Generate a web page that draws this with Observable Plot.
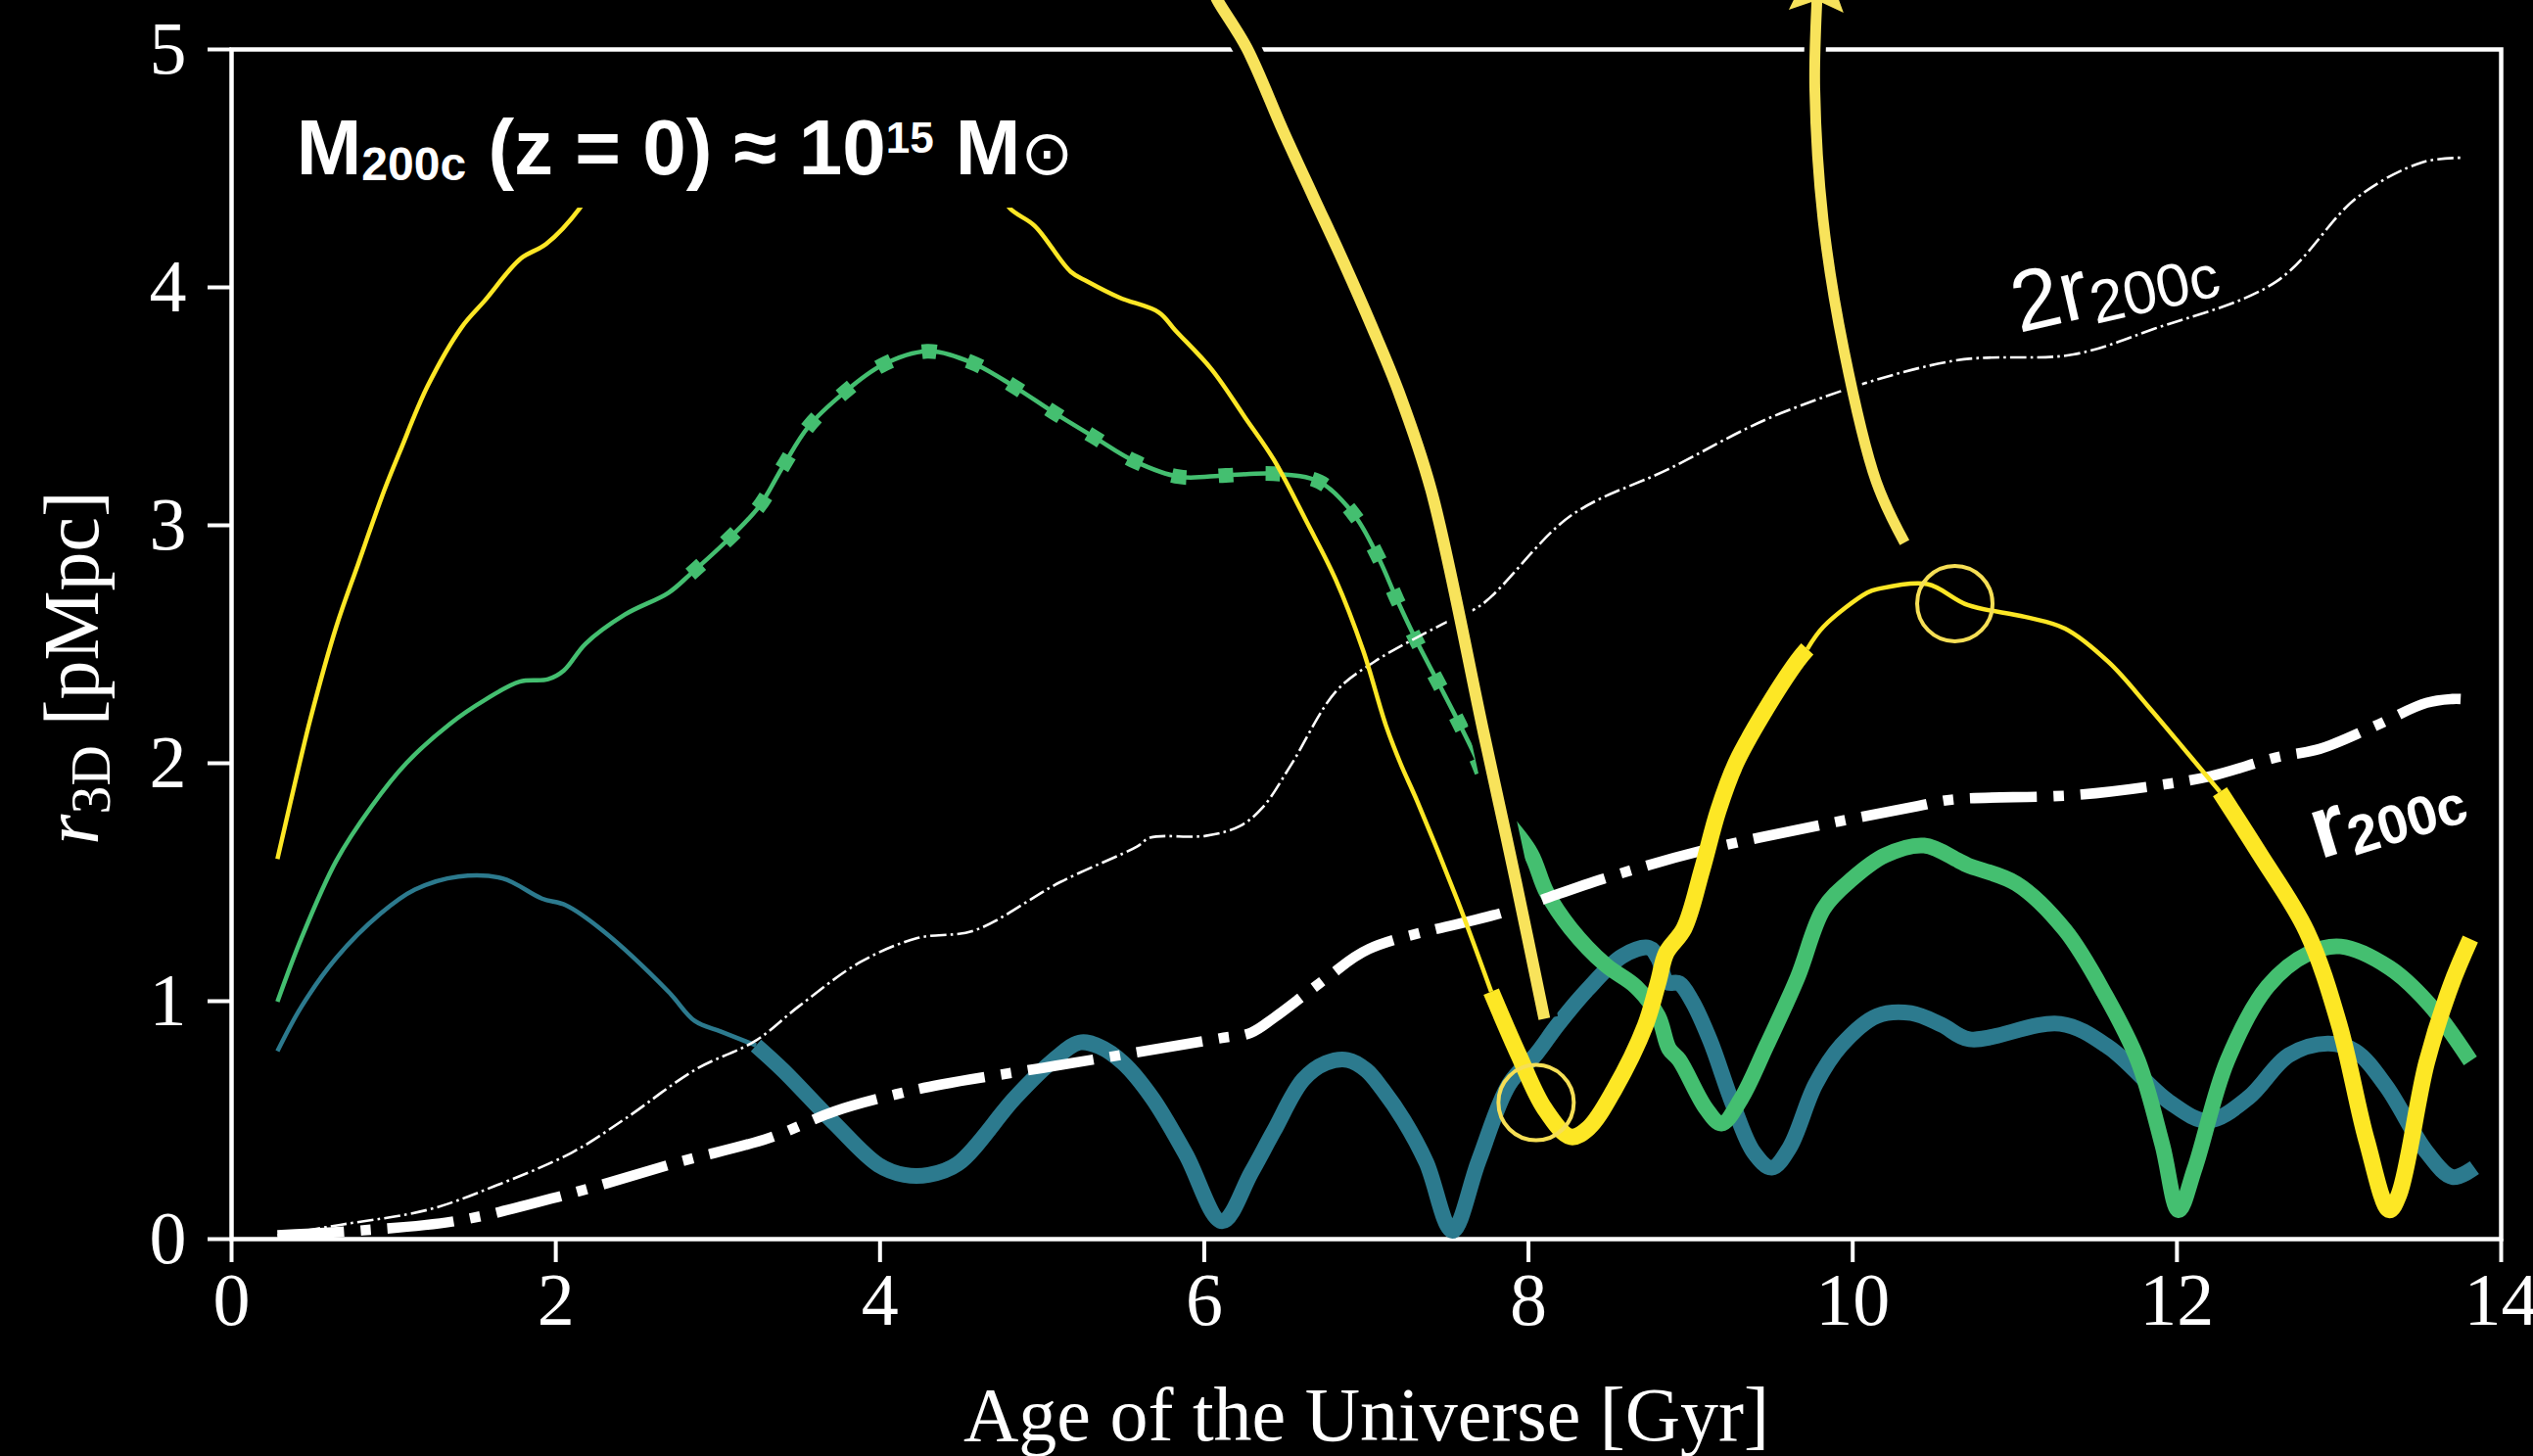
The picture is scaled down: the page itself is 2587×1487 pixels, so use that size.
<!DOCTYPE html>
<html><head><meta charset="utf-8">
<script src="https://cdn.jsdelivr.net/npm/d3@7"></script>
<script src="https://cdn.jsdelivr.net/npm/@observablehq/plot@0.6"></script>
<style>html,body{margin:0;padding:0;background:#000;overflow:hidden}</style>
</head><body><div id="chart"></div>
<script>
// ---------- data: [age (Gyr), r3D (pMpc)] ----------
const xTicks = [0, 2, 4, 6, 8, 10, 12, 14];
const yTicks = [0, 1, 2, 3, 4, 5];

const blueThin = [[0.283,0.79],[0.431,0.977],[0.646,1.182],[0.917,1.367],[1.131,1.469],[1.40,1.524],[1.672,1.516],[1.915,1.431],[2.062,1.403],[2.29,1.296],[2.696,1.039],[2.857,0.917],[3.02,0.872],[3.235,0.814]];
const blueThick = [[3.235,0.814],[3.40,0.711],[3.72,0.486],[3.99,0.312],[4.15,0.27],[4.3,0.27],[4.48,0.317],[4.83,0.592],[5.05,0.74],[5.23,0.826],[5.35,0.81],[5.50,0.74],[5.68,0.592],[5.885,0.358],[6.11,0.075],[6.29,0.28],[6.43,0.455],[6.61,0.67],[6.75,0.74],[6.885,0.753],[7.0,0.71],[7.10,0.629],[7.23,0.5],[7.37,0.322],[7.53,0.035],[7.693,0.33],[7.88,0.65],[8.05,0.78],[8.18,0.9],[8.365,1.05],[8.58,1.19],[8.745,1.224],[8.80,1.18],[8.855,1.08],[8.93,1.075],[9.01,0.999],[9.12,0.835],[9.26,0.568],[9.39,0.364],[9.50,0.3],[9.61,0.384],[9.77,0.65],[9.93,0.815],[10.15,0.938],[10.36,0.95],[10.55,0.9],[10.72,0.84],[11.28,0.905],[11.58,0.806],[11.95,0.578],[12.19,0.498],[12.44,0.594],[12.69,0.773],[12.93,0.822],[13.10,0.79],[13.29,0.643],[13.54,0.366],[13.70,0.261],[13.835,0.3]];

const greenThin = [[0.283,0.998],[0.431,1.265],[0.646,1.59],[0.863,1.818],[1.079,2.001],[1.346,2.165],[1.565,2.267],[1.778,2.343],[1.953,2.353],[2.05,2.39],[2.183,2.502],[2.426,2.625],[2.696,2.717],[2.83,2.795],[3.047,2.93],[3.255,3.08],[3.40,3.246],[3.56,3.416],[3.77,3.553],[4.007,3.671],[4.29,3.731],[4.566,3.684],[4.823,3.585],[5.07,3.475],[5.318,3.372],[5.568,3.27],[5.846,3.204],[6.133,3.21],[6.428,3.217],[6.71,3.183],[6.925,3.044],[7.07,2.87],[7.19,2.686],[7.31,2.513],[7.45,2.33],[7.59,2.144],[7.69,2.001],[7.76,1.87],[7.86,1.76]];
const greenMarked = [[2.83,2.795],[3.047,2.93],[3.255,3.08],[3.40,3.246],[3.56,3.416],[3.77,3.553],[4.007,3.671],[4.29,3.731],[4.566,3.684],[4.823,3.585],[5.07,3.475],[5.318,3.372],[5.568,3.27],[5.846,3.204],[6.133,3.21],[6.428,3.217],[6.71,3.183],[6.925,3.044],[7.07,2.87],[7.19,2.686],[7.31,2.513],[7.45,2.33],[7.59,2.144],[7.69,2.001],[7.76,1.87]];
const greenThick = [[7.86,1.76],[8.015,1.62],[8.11,1.46],[8.26,1.306],[8.476,1.152],[8.664,1.06],[8.80,0.937],[8.867,0.8],[8.93,0.753],[9.096,0.548],[9.19,0.486],[9.31,0.588],[9.47,0.815],[9.66,1.10],[9.82,1.388],[9.99,1.51],[10.2,1.613],[10.44,1.654],[10.65,1.592],[10.71,1.571],[11.01,1.494],[11.31,1.298],[11.56,1.024],[11.76,0.749],[11.91,0.396],[12.01,0.121],[12.11,0.298],[12.31,0.749],[12.56,1.062],[12.81,1.20],[13.01,1.23],[13.31,1.141],[13.56,0.984],[13.81,0.749]];

const yellowThinA = [[0.283,1.598],[0.364,1.837],[0.486,2.185],[0.646,2.574],[0.782,2.84],[0.942,3.147],[1.039,3.311],[1.21,3.586],[1.42,3.833],[1.56,3.943],[1.784,4.121],[1.94,4.182],[2.148,4.333],[2.25,4.45]];
const yellowThinB = [[4.70,4.45],[4.80,4.333],[4.955,4.258],[5.176,4.066],[5.279,4.025],[5.478,3.957],[5.72,3.895],[5.822,3.819],[6.046,3.655],[6.254,3.451],[6.428,3.277],[6.636,3.009],[6.81,2.773],[6.98,2.474],[7.12,2.16],[7.21,2.0],[7.315,1.838],[7.56,1.427],[7.77,1.04]];
const yellowThickA = [[7.77,1.04],[7.94,0.773],[8.10,0.548],[8.26,0.43],[8.37,0.467],[8.53,0.63],[8.72,0.897],[8.80,1.08],[8.85,1.203],[8.96,1.306],[9.07,1.551],[9.17,1.80],[9.28,2.001],[9.445,2.205],[9.66,2.431],[9.72,2.48]];
const yellowThinC = [[9.72,2.48],[9.82,2.574],[10.09,2.717],[10.16,2.733],[10.46,2.753],[10.71,2.665],[11.06,2.616],[11.31,2.566],[11.58,2.424],[11.82,2.241],[12.07,2.039],[12.265,1.88]];
const yellowThickB = [[12.265,1.88],[12.51,1.619],[12.80,1.294],[13.0,0.903],[13.17,0.415],[13.31,0.123],[13.37,0.188],[13.54,0.741],[13.69,1.066],[13.81,1.261]];

const r200c = [[0.283,0.016],[0.81,0.037],[1.40,0.078],[2.076,0.189],[2.75,0.322],[3.315,0.425],[3.72,0.537],[4.10,0.609],[4.38,0.65],[5.08,0.728],[6.09,0.843],[6.29,0.868],[6.43,0.93],[6.76,1.10],[7.015,1.219],[7.86,1.376],[8.46,1.514],[9.06,1.631],[9.86,1.748],[10.40,1.82],[10.61,1.847],[11.36,1.866],[11.86,1.905],[12.21,1.946],[12.61,2.024],[12.88,2.06],[13.2,2.15],[13.54,2.254],[13.70,2.27],[13.75,2.27]];
const twoR200c = [[0.283,0.016],[0.67,0.06],[1.21,0.123],[1.62,0.222],[2.10,0.364],[2.43,0.507],[2.86,0.712],[3.235,0.835],[3.50,0.979],[3.88,1.165],[4.23,1.265],[4.58,1.297],[5.11,1.50],[5.585,1.65],[5.665,1.687],[6.01,1.695],[6.22,1.736],[6.36,1.814],[6.53,1.987],[6.81,2.30],[7.05,2.427],[7.47,2.585],[7.71,2.666],[8.26,3.04],[8.86,3.235],[9.56,3.472],[10.61,3.69],[11.36,3.718],[11.86,3.826],[12.61,4.023],[13.11,4.377],[13.51,4.525],[13.76,4.545]];

const arrowIn = [[6.06,5.24],[6.084,5.204],[6.263,5.005],[6.487,4.657],[6.673,4.381],[6.859,4.107],[7.035,3.834],[7.201,3.558],[7.40,3.147],[7.725,2.123],[7.92,1.51],[8.098,0.926]];
const arrowOut = [[10.32,2.927],[10.145,3.184],[9.946,3.735],[9.817,4.286],[9.766,4.837],[9.779,5.204],[9.783,5.25]];
const arrowTip = [[9.783,5.27]];
const marked = [[8.047,0.574],[10.63,2.671]];

const labels = [
  {text: "M200c (z = 0) ≈ 1015 M⊙", t: 0.40, r: 4.475},
  {text: "2r200c", t: 11.61, r: 4.02},
  {text: "r200c", t: 13.29, r: 1.806}
];

// ---------- styles ----------
const BLUE = "#2c7a8e", GREEN = "#44bf70", YELLOW = "#fde725", ARROW = "#f8e35b", CIRC = "#f6df55";
const SANS = "'Liberation Sans', Arial, sans-serif";
const SERIF = "'Liberation Serif', 'Times New Roman', serif";
const xy = {x: d => d[0], y: d => d[1], curve: "catmull-rom", strokeLinecap: "butt", strokeLinejoin: "round"};

const stealth = {
  draw(ctx, size) {
    const r = Math.sqrt(size / Math.PI);
    ctx.moveTo(0, -1.4 * r);
    ctx.lineTo(r, 0.95 * r);
    ctx.lineTo(0, 0.55 * r);
    ctx.lineTo(-r, 0.95 * r);
    ctx.closePath();
  }
};

const chart = Plot.plot({
  width: 2587, height: 1487,
  marginLeft: 236, marginRight: 33, marginTop: 50, marginBottom: 222,
  x: {domain: [0, 14]},
  y: {domain: [0, 5]},
  style: {background: "#000", color: "#fff", fontFamily: SERIF, fontSize: "76px"},
  marks: [
    Plot.frame({stroke: "#fff", strokeWidth: 4.5}),
    Plot.axisX({ticks: xTicks, tickSize: 24, tickPadding: 10, strokeWidth: 4, fontSize: 76, label: null, tickFormat: d => String(d)}),
    Plot.axisY({ticks: yTicks, tickSize: 24, tickPadding: 22, strokeWidth: 4, fontSize: 76, label: null, tickFormat: d => String(d)}),
    Plot.line(blueThin, {...xy, stroke: BLUE, strokeWidth: 4.5}),
    Plot.line(blueThick, {...xy, stroke: BLUE, strokeWidth: 16}),
    Plot.line(greenThin, {...xy, stroke: GREEN, strokeWidth: 4.5}),
    Plot.line(greenMarked, {...xy, stroke: GREEN, strokeWidth: 15, strokeDasharray: "15 33"}),
    Plot.line(greenThick, {...xy, stroke: GREEN, strokeWidth: 16}),
    Plot.line(twoR200c, {...xy, stroke: "#fff", strokeWidth: 2.6, strokeDasharray: "16.6 4.2 2.6 4.2"}),
    Plot.line(r200c, {...xy, stroke: "#fff", strokeWidth: 10.6, strokeDasharray: "68 17 10.6 17"}),
    Plot.line(yellowThinA, {...xy, stroke: YELLOW, strokeWidth: 4.5}),
    Plot.line(yellowThinB, {...xy, stroke: YELLOW, strokeWidth: 4.5}),
    Plot.line(yellowThinC, {...xy, stroke: YELLOW, strokeWidth: 4.5}),
    Plot.line(yellowThickA, {...xy, stroke: YELLOW, strokeWidth: 17}),
    Plot.line(yellowThickB, {...xy, stroke: YELLOW, strokeWidth: 17}),
    Plot.dot(marked, {x: d => d[0], y: d => d[1], r: 38.5, stroke: CIRC, strokeWidth: 4, fill: "none"}),
    Plot.line(arrowIn, {...xy, stroke: "#000", strokeWidth: 28}),
    Plot.line(arrowIn, {...xy, stroke: ARROW, strokeWidth: 12}),
    Plot.line(arrowOut, {...xy, stroke: "#000", strokeWidth: 22}),
    Plot.line(arrowOut, {...xy, stroke: ARROW, strokeWidth: 11}),
    Plot.dot(arrowTip, {x: d => d[0], y: d => d[1], r: 28, symbol: stealth, fill: ARROW, stroke: "none", rotate: 3}),
    Plot.text(labels.slice(0, 1), {x: "t", y: "r", text: "text", textAnchor: "start", lineAnchor: "bottom", fontFamily: SANS, fontWeight: "bold", fontSize: 80, fill: "#fff"}),
    Plot.text(labels.slice(1, 2), {x: "t", y: "r", text: "text", rotate: -13, fontFamily: SANS, fontSize: 88, fill: "#fff"}),
    Plot.text(labels.slice(2, 3), {x: "t", y: "r", text: "text", rotate: -17, fontFamily: SANS, fontWeight: "bold", fontSize: 90, fill: "#fff"}),
    Plot.text(["Age of the Universe [Gyr]"], {frameAnchor: "bottom", textAnchor: "middle", dy: 205, lineAnchor: "bottom", fontSize: 78, fill: "#fff"}),
    Plot.text(["r3D [pMpc]"], {frameAnchor: "left", textAnchor: "middle", dx: -162, dy: 24, rotate: -90, fontSize: 80, fill: "#fff"})
  ]
});
document.getElementById("chart").appendChild(chart);

// ---------- rich text (sub/superscripts) ----------
const NS = "http://www.w3.org/2000/svg";
function findText(str) {
  return [...chart.querySelectorAll("text")].find(e => e.textContent === str);
}
function rich(str, base, parts) {
  const el = findText(str);
  if (!el) return null;
  el.textContent = "";
  let cur = 0;
  for (const p of parts) {
    const ts = document.createElementNS(NS, "tspan");
    const shift = p.shift || 0;
    if (shift !== cur) ts.setAttribute("dy", shift - cur);
    cur = shift;
    if (p.scale) ts.setAttribute("font-size", (base * p.scale).toFixed(1));
    if (p.italic) ts.setAttribute("font-style", "italic");
    if (p.family) ts.setAttribute("font-family", p.family);
    if (p.weight) ts.setAttribute("font-weight", p.weight);
    ts.textContent = p.s;
    el.appendChild(ts);
  }
  return el;
}
const mass = rich(labels[0].text, 80, [
  {s: "M"}, {s: "200c", scale: 0.6, shift: 6}, {s: " (z = 0) ≈ 10"},
  {s: "15", scale: 0.55, shift: -22}, {s: " M"},
  {s: "⊙", scale: 0.8, shift: 0, family: "'DejaVu Sans', sans-serif", weight: "normal"}
]);
rich(labels[1].text, 88, [{s: "2r"}, {s: "200c", scale: 0.7, shift: 9}]);
rich(labels[2].text, 90, [{s: "r"}, {s: "200c", scale: 0.62, shift: 7}]);
rich("r3D [pMpc]", 80, [{s: "r", italic: true}, {s: "3D", scale: 0.72, shift: 12}, {s: " [pMpc]"}]);

// black box behind the mass annotation (hides the curve under it, as in the figure)
if (mass) {
  const bb = mass.getBBox();
  const rect = document.createElementNS(NS, "rect");
  rect.setAttribute("x", bb.x - 18);
  rect.setAttribute("y", bb.y - 12);
  rect.setAttribute("width", bb.width + 36);
  rect.setAttribute("height", 34 - (bb.y - 12));
  rect.setAttribute("fill", "#000");
  const tr = mass.getAttribute("transform");
  if (tr) rect.setAttribute("transform", tr);
  mass.parentNode.insertBefore(rect, mass);
}
</script>
</body></html>
